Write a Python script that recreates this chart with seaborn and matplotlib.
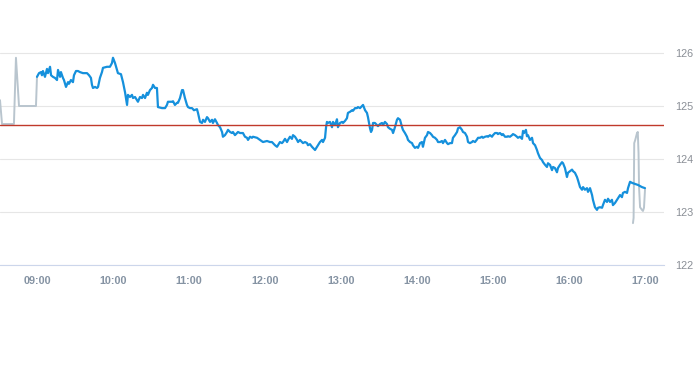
import matplotlib
matplotlib.use("Agg")
import matplotlib.pyplot as plt
import seaborn as sns
import pandas as pd
import numpy as np

# ---- data (minutes after 09:00, price) ----
main_minutes = [0, 1.6, 3.2, 3.9, 4.7, 6.3, 7.9, 8.7, 10.3, 11.1, 12.6, 14.2, 15.8, 16.6, 18.2, 18.9, 20.5, 21.3,
    22.9, 24.5, 25.3, 26.8, 28.4, 29.2, 30.8, 32.4, 33.9, 36.3, 39.5, 41.1, 42.6, 43.4, 44.2, 45.8, 47.4, 48.2,
    49.7, 51.3, 52.1, 55.3, 57.6, 59.2, 60.0, 61.6, 63.2, 63.9, 66.3, 67.9, 69.5, 71.1, 71.8, 73.4, 75.0, 75.8,
    77.4, 78.9, 79.7, 81.3, 82.9, 83.7, 85.3, 86.8, 87.6, 89.2, 90.8, 91.6, 93.2, 94.7, 95.5, 98.7, 101.1, 102.6,
    103.4, 106.6, 107.4, 108.9, 110.5, 111.3, 112.9, 114.5, 115.3, 116.8, 118.4, 119.2, 120.8, 122.4, 123.9, 126.3,
    127.1, 128.7, 130.3, 131.1, 132.6, 134.2, 135.0, 136.6, 138.2, 138.9, 140.5, 142.1, 142.9, 144.5, 146.1, 146.8,
    148.4, 150.0, 150.8, 152.4, 153.9, 154.7, 156.3, 157.9, 158.7, 160.3, 161.8, 162.6, 164.2, 165.8, 166.6, 168.2,
    169.7, 170.5, 173.7, 176.1, 178.4, 181.6, 183.9, 185.5, 186.3, 187.9, 189.5, 190.3, 191.8, 193.4, 194.2, 195.8,
    197.4, 198.2, 199.7, 201.3, 202.1, 203.7, 205.3, 206.1, 207.6, 209.2, 210.0, 211.6, 213.2, 213.9, 215.5, 217.1,
    217.9, 219.5, 221.1, 221.8, 223.4, 225.0, 225.8, 227.4, 228.2, 228.9, 229.7, 231.3, 232.9, 233.7, 235.3, 236.8,
    237.6, 239.2, 240.8, 241.6, 243.2, 244.7, 245.5, 247.1, 248.7, 249.5, 251.1, 252.6, 253.4, 255.0, 256.6, 257.4,
    259.0, 260.5, 261.3, 262.9, 263.7, 264.5, 265.3, 266.8, 268.4, 269.2, 270.8, 272.4, 273.2, 274.7, 276.3, 277.1,
    278.7, 280.3, 281.1, 282.6, 284.2, 285.0, 286.6, 288.2, 288.9, 290.5, 292.1, 292.9, 294.5, 296.1, 296.8, 298.4,
    300.0, 300.8, 302.4, 303.9, 304.7, 306.3, 307.9, 308.7, 310.3, 311.8, 312.6, 314.2, 315.8, 316.6, 318.2, 319.7,
    320.5, 322.1, 323.7, 324.5, 326.1, 327.6, 328.4, 330.0, 331.6, 332.4, 333.9, 335.5, 336.3, 337.9, 339.5, 340.3,
    341.8, 343.4, 344.2, 345.8, 347.4, 348.2, 349.7, 351.3, 352.1, 353.7, 355.3, 356.1, 357.6, 359.2, 360.0, 361.6,
    363.2, 363.9, 365.5, 367.1, 367.9, 369.5, 371.1, 371.8, 373.4, 375.0, 375.8, 377.4, 378.9, 379.7, 381.3, 382.9,
    383.7, 384.5, 386.0, 386.8, 387.6, 389.2, 390.8, 391.6, 393.2, 394.7, 395.5, 397.1, 398.7, 399.5, 401.1, 402.6,
    403.4, 405.0, 406.6, 407.4, 408.9, 410.5, 411.3, 412.9, 414.5, 415.3, 416.8, 418.4, 419.2, 420.8, 422.4, 423.2,
    424.7, 426.3, 427.1, 428.7, 430.3, 431.1, 432.6, 434.2, 435.0, 436.6, 438.2, 438.9, 440.5, 442.1, 442.9, 444.5,
    446.1, 446.8, 448.4, 450.0, 450.8, 452.4, 453.9, 454.7, 456.3, 457.9, 458.7, 460.3, 461.8, 462.6, 464.2, 465.8,
    466.6, 468.2, 469.7, 472.1, 474.5, 477.6, 480.0]
main_prices = [125.55, 125.62, 125.64, 125.58, 125.66, 125.55, 125.70, 125.62, 125.74, 125.58, 125.55, 125.53, 125.49,
    125.68, 125.55, 125.64, 125.53, 125.49, 125.36, 125.45, 125.42, 125.49, 125.45, 125.58, 125.66, 125.66, 125.64,
    125.62, 125.62, 125.58, 125.53, 125.40, 125.34, 125.36, 125.34, 125.36, 125.53, 125.64, 125.72, 125.74, 125.74,
    125.81, 125.91, 125.81, 125.68, 125.62, 125.60, 125.45, 125.26, 125.02, 125.21, 125.17, 125.21, 125.15, 125.17,
    125.11, 125.08, 125.17, 125.15, 125.21, 125.15, 125.25, 125.21, 125.30, 125.34, 125.40, 125.34, 125.34, 124.98,
    124.96, 124.96, 125.02, 125.08, 125.08, 125.09, 125.02, 125.06, 125.06, 125.15, 125.30, 125.30, 125.15, 125.02,
    124.98, 124.96, 124.96, 124.92, 124.94, 124.87, 124.70, 124.68, 124.74, 124.70, 124.79, 124.77, 124.70, 124.74,
    124.68, 124.75, 124.68, 124.64, 124.60, 124.51, 124.42, 124.45, 124.51, 124.55, 124.51, 124.49, 124.51, 124.45,
    124.49, 124.51, 124.49, 124.49, 124.49, 124.42, 124.40, 124.36, 124.42, 124.40, 124.42, 124.40, 124.36, 124.32,
    124.34, 124.32, 124.32, 124.30, 124.26, 124.23, 124.26, 124.32, 124.30, 124.32, 124.38, 124.32, 124.36, 124.42,
    124.38, 124.45, 124.42, 124.36, 124.32, 124.36, 124.32, 124.30, 124.32, 124.30, 124.26, 124.28, 124.23, 124.21,
    124.17, 124.23, 124.26, 124.32, 124.36, 124.32, 124.40, 124.60, 124.70, 124.68, 124.70, 124.60, 124.70, 124.64,
    124.75, 124.60, 124.68, 124.70, 124.68, 124.72, 124.77, 124.87, 124.89, 124.92, 124.91, 124.96, 124.96, 124.98,
    124.96, 125.00, 125.02, 124.92, 124.87, 124.79, 124.58, 124.51, 124.55, 124.68, 124.68, 124.64, 124.62, 124.66,
    124.68, 124.64, 124.70, 124.66, 124.60, 124.57, 124.55, 124.49, 124.60, 124.74, 124.77, 124.74, 124.60, 124.55,
    124.49, 124.42, 124.36, 124.32, 124.30, 124.26, 124.21, 124.23, 124.21, 124.30, 124.32, 124.23, 124.40, 124.45,
    124.51, 124.49, 124.45, 124.42, 124.40, 124.36, 124.32, 124.32, 124.34, 124.30, 124.36, 124.30, 124.28, 124.30,
    124.30, 124.40, 124.45, 124.51, 124.58, 124.60, 124.55, 124.51, 124.49, 124.42, 124.32, 124.30, 124.32, 124.34,
    124.32, 124.37, 124.40, 124.40, 124.42, 124.40, 124.42, 124.43, 124.42, 124.45, 124.42, 124.45, 124.49, 124.49,
    124.47, 124.49, 124.45, 124.47, 124.42, 124.42, 124.43, 124.42, 124.45, 124.47, 124.45, 124.42, 124.40, 124.42,
    124.38, 124.53, 124.49, 124.55, 124.43, 124.45, 124.36, 124.40, 124.30, 124.26, 124.17, 124.11, 124.02, 123.98,
    123.94, 123.89, 123.85, 123.92, 123.89, 123.79, 123.85, 123.83, 123.75, 123.83, 123.89, 123.94, 123.92, 123.83,
    123.66, 123.74, 123.77, 123.80, 123.77, 123.74, 123.66, 123.60, 123.47, 123.42, 123.47, 123.42, 123.45, 123.38,
    123.45, 123.32, 123.23, 123.09, 123.04, 123.08, 123.09, 123.08, 123.13, 123.23, 123.19, 123.25, 123.19, 123.23,
    123.13, 123.17, 123.23, 123.26, 123.32, 123.28, 123.36, 123.38, 123.36, 123.45, 123.57, 123.55, 123.53, 123.51,
    123.47, 123.45]

pre_minutes = [-29.2, -27.6, -18.2, -16.6, -14.2, -0.8, 0]
pre_prices = [125.11, 124.66, 124.66, 125.91, 125.00, 125.00, 125.55]

post_minutes = [470.5, 471.0, 471.5, 472.3, 473.7, 474.3, 474.9, 475.3, 476.1, 477.6, 478.4, 479.2, 480.0]
post_prices = [122.79, 122.89, 124.30, 124.36, 124.49, 124.51, 124.11, 123.47, 123.09, 123.04, 123.02, 123.08, 123.42]

prev_close = 124.64
hour_ticks = [9, 10, 11, 12, 13, 14, 15, 16, 17]
hour_labels = ["09:00", "10:00", "11:00", "12:00", "13:00", "14:00", "15:00", "16:00", "17:00"]
price_ticks = [122, 123, 124, 125, 126]

def frame(minutes, prices):
    return pd.DataFrame({"hour": 9 + np.asarray(minutes) / 60.0, "price": prices})

main_df = frame(main_minutes, main_prices)
pre_df = frame(pre_minutes, pre_prices)
post_df = frame(post_minutes, post_prices)

sns.set_style("white")
plt.rcParams["font.family"] = ["Liberation Sans", "DejaVu Sans"]

fig = plt.figure(figsize=(6.93, 3.65), dpi=100)
ax = fig.add_axes([0.0, 100 / 365, 664 / 693, (265 - 26.5) / 365])

gray = "#b9c5ce"
blue = "#1590dc"
sns.lineplot(data=pre_df, x="hour", y="price", ax=ax, color=gray, lw=1.4, estimator=None, sort=False)
sns.lineplot(data=post_df, x="hour", y="price", ax=ax, color=gray, lw=1.4, estimator=None, sort=False)
sns.lineplot(data=main_df, x="hour", y="price", ax=ax, color=blue, lw=1.6, estimator=None, sort=False, zorder=3)
ax.axhline(prev_close, color="#c0392b", lw=1.0, zorder=4)

ax.set_xlim(9 - 29.2 / 60, 9 + 495 / 60)
ax.set_ylim(122, 126.5)
ax.set_xlabel("")
ax.set_ylabel("")

ax.set_yticks(price_ticks)
ax.set_yticklabels([str(p) for p in price_ticks])
ax.yaxis.tick_right()
ax.tick_params(axis="y", length=0, pad=8, labelsize=7.8, labelcolor="#8a8f96")
ax.grid(axis="y", color="#e6e6e6", lw=0.8)
ax.set_axisbelow(True)

ax.set_xticks(hour_ticks)
ax.set_xticklabels(hour_labels, fontweight="bold")
ax.tick_params(axis="x", length=4, width=0.8, color="#ccd6eb", pad=4, labelsize=7.8, labelcolor="#8593a3")

for side in ["left", "top", "right"]:
    ax.spines[side].set_visible(False)
ax.spines["bottom"].set_color("#ccd6eb")
ax.spines["bottom"].set_linewidth(0.8)

fig.savefig("out.png", dpi=100)
